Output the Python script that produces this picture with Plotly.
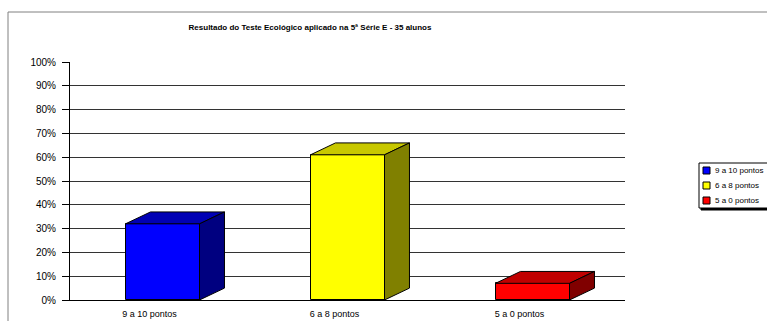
import plotly.graph_objects as go

categories = ["9 a 10 pontos", "6 a 8 pontos", "5 a 0 pontos"]
values = [0.32, 0.61, 0.07]
front_colors = ["#0000FF", "#FFFF00", "#FF0000"]
top_colors = ["#0000B4", "#C8C800", "#C00000"]
side_colors = ["#000080", "#808000", "#800000"]
y_ticks = [i / 10 for i in range(11)]
y_tick_labels = [f"{int(round(t * 100))}%" for t in y_ticks]

title_text = "Resultado do Teste Ecológico aplicado na 5ª Série E - 35 alunos"

bar_w = 0.4
dx = 0.135   # depth offset in x data units
dy = 0.05    # depth offset in y data units

fig = go.Figure()

for i, (cat, v) in enumerate(zip(categories, values)):
    fig.add_trace(go.Bar(
        x=[i], y=[v], width=bar_w, name=cat, showlegend=False,
        marker=dict(color=front_colors[i], line=dict(color="black", width=1)),
        hoverinfo="skip",
    ))

for i, v in enumerate(values):
    xl, xr = i - bar_w / 2, i + bar_w / 2
    # top face
    fig.add_trace(go.Scatter(
        x=[xl, xr, xr + dx, xl + dx, xl], y=[v, v, v + dy, v + dy, v],
        mode="lines", fill="toself", fillcolor=top_colors[i],
        line=dict(color="black", width=1), showlegend=False, hoverinfo="skip",
    ))
    # side face
    fig.add_trace(go.Scatter(
        x=[xr, xr + dx, xr + dx, xr, xr], y=[0, dy, v + dy, v, 0],
        mode="lines", fill="toself", fillcolor=side_colors[i],
        line=dict(color="black", width=1), showlegend=False, hoverinfo="skip",
    ))

L, R, T, B = 70, 142, 62, 21
W, H = 767, 321
pw, ph = W - L - R, H - T - B


def px(x):
    return (x - L) / pw


def py(y):
    return (H - B - y) / ph


shapes = [dict(
    type="rect", xref="paper", yref="paper",
    x0=px(8), x1=px(W + 20), y0=py(H + 20), y1=py(12),
    line=dict(color="#808080", width=1), fillcolor="rgba(0,0,0,0)", layer="below",
)]
annotations = []

# legend (box, colour keys and labels)
leg_left, leg_top, row_h = 699, 163, 15
shapes.append(dict(
    type="rect", xref="paper", yref="paper",
    x0=px(leg_left + 2), x1=px(W + 20), y0=py(leg_top + 3 * row_h + 2), y1=py(leg_top + 2),
    line=dict(color="black", width=1), fillcolor="black", layer="above",
))
shapes.append(dict(
    type="rect", xref="paper", yref="paper",
    x0=px(leg_left), x1=px(W + 20), y0=py(leg_top + 3 * row_h), y1=py(leg_top),
    line=dict(color="black", width=1), fillcolor="white", layer="above",
))
for i, cat in enumerate(categories):
    cy = leg_top + row_h * (i + 0.5)
    shapes.append(dict(
        type="rect", xref="paper", yref="paper",
        x0=px(leg_left + 4), x1=px(leg_left + 11), y0=py(cy + 3.5), y1=py(cy - 3.5),
        line=dict(color="black", width=1), fillcolor=front_colors[i], layer="above",
    ))
    annotations.append(dict(
        text=cat, xref="paper", yref="paper", x=px(leg_left + 14), y=py(cy),
        xanchor="left", yanchor="middle", showarrow=False, font=dict(size=8),
    ))

fig.update_layout(
    width=W, height=H,
    margin=dict(l=L, r=R, t=T, b=B, autoexpand=False),
    paper_bgcolor="white", plot_bgcolor="white",
    font=dict(family="Liberation Sans, Arial, sans-serif", color="black", size=9),
    title=dict(text=f"<b>{title_text}</b>", x=310 / W, xanchor="center",
               y=1 - 27 / H, yanchor="middle", font=dict(size=8)),
    showlegend=False,
    bargap=0,
    xaxis=dict(
        range=[-0.5, 2.5], tickmode="array", tickvals=list(range(len(categories))),
        ticktext=categories, showgrid=False, zeroline=False,
        showline=True, linecolor="black", linewidth=1, ticks="",
        ticklabelshift=-13, ticklabelstandoff=5, tickfont=dict(size=9),
        fixedrange=True, automargin=False,
    ),
    yaxis=dict(
        range=[0, 1], tickmode="array", tickvals=y_ticks, ticktext=y_tick_labels,
        showgrid=True, gridcolor="#333333", gridwidth=1, zeroline=False,
        showline=True, linecolor="black", linewidth=1,
        ticks="outside", ticklen=7, tickcolor="black",
        ticklabelstandoff=4, tickfont=dict(size=10), fixedrange=True, automargin=False,
    ),
    shapes=shapes,
    annotations=annotations,
)

fig.write_html("out.html")
